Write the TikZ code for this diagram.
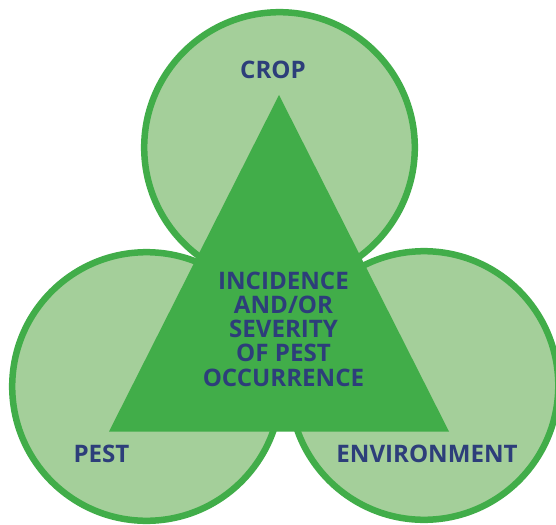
\documentclass[tikz,border=0pt]{standalone}
\usepackage{fontspec}
\setmainfont{Open Sans}
\definecolor{lightgreen}{RGB}{164,207,154}
\definecolor{darkgreen}{RGB}{65,173,73}
\definecolor{navy}{RGB}{45,62,122}
\begin{document}
\begin{tikzpicture}[x=1pt,y=-1pt,
  circ/.style={draw=darkgreen,fill=lightgreen,line width=6.5pt},
  lbl/.style={inner sep=0pt,text=navy,font=\fontsize{24.1}{24.2}\selectfont\bfseries},
]
\useasboundingbox (0,0) rectangle (556,524);
\fill[white] (0,0) rectangle (556,524);
\draw[circ] (279.5,147.5) circle[radius=135.3];
\draw[circ] (146.5,386.5) circle[radius=134.3];
\draw[circ] (424,385.5) circle[radius=134.3];
\coordinate (apex) at (279,95);
\coordinate (bl) at (109,431.5);
\coordinate (br) at (449,431.5);
\fill[darkgreen] (apex) -- (bl) -- (br) -- cycle;
\node[lbl,anchor=base] (crop) at (273,78.3) {CROP};
\node[lbl,anchor=base] (pest) at (101.5,462.7) {PEST};
\node[lbl,anchor=base] (env) at (427,462.7) {ENVIRONMENT};
\node[lbl,align=center,anchor=center] (mid) at (283.5,329) {INCIDENCE\\AND/OR\\SEVERITY\\OF PEST\\OCCURRENCE};
\end{tikzpicture}
\end{document}
